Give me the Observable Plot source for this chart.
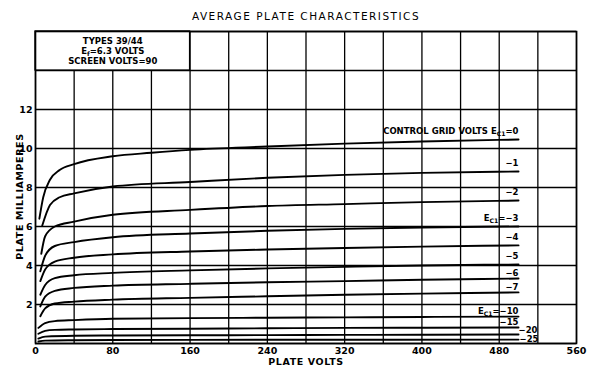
<!DOCTYPE html>
<html><head><meta charset="utf-8">
<script src="https://cdn.jsdelivr.net/npm/d3@7"></script>
<script src="https://cdn.jsdelivr.net/npm/@observablehq/plot@0.6"></script>
<style>body{margin:0;background:#fff} svg{display:block}</style>
</head><body><div id="chart"></div>
<script>
// Control-grid voltages (one curve each)
const gridVolts = [0, -1, -2, -3, -4, -5, -6, -7, -10, -15, -20, -25];
// Curve labels (E_C1 -> E with subscript C1)
const curveLabels = ["CONTROL GRID VOLTS E_C1=0", "−1", "−2", "E_C1=−3", "−4", "−5", "−6", "−7", "E_C1=−10", "−15", "−20", "−25"];
// [plate volts, plate milliamperes]
const ec0   = [[4,6.4],[8,7.5],[15,8.4],[25,8.9],[40,9.2],[80,9.6],[120,9.78],[160,9.93],[240,10.1],[320,10.25],[400,10.36],[500,10.46]];
const ec1   = [[7,6.05],[15,7.1],[25,7.5],[40,7.7],[80,8.05],[160,8.28],[240,8.5],[320,8.65],[400,8.75],[500,8.82]];
const ec2   = [[6,4.6],[10,5.5],[20,6.0],[40,6.25],[80,6.6],[160,6.85],[240,7.05],[320,7.15],[400,7.25],[500,7.33]];
const ec3   = [[5,3.7],[10,4.5],[20,5.0],[40,5.2],[80,5.45],[160,5.64],[240,5.78],[320,5.88],[400,5.95],[500,6.0]];
const ec4   = [[5,3.2],[10,3.8],[20,4.2],[40,4.4],[80,4.57],[160,4.72],[240,4.82],[320,4.9],[400,4.97],[500,5.03]];
const ec5   = [[5,2.5],[10,3.0],[20,3.35],[40,3.5],[80,3.62],[160,3.75],[240,3.85],[320,3.93],[400,4.0],[500,4.05]];
const ec6   = [[5,1.9],[10,2.4],[20,2.7],[40,2.85],[80,2.97],[160,3.06],[240,3.14],[320,3.2],[400,3.27],[500,3.33]];
const ec7   = [[5,1.4],[10,1.8],[20,2.05],[40,2.15],[80,2.25],[160,2.34],[240,2.42],[320,2.5],[400,2.56],[500,2.62]];
const ec10  = [[3,0.8],[10,1.05],[20,1.15],[40,1.2],[80,1.27],[160,1.3],[240,1.32],[320,1.34],[400,1.36],[500,1.38]];
const ec15  = [[3,0.5],[10,0.65],[20,0.7],[40,0.72],[80,0.74],[160,0.76],[240,0.78],[320,0.8],[400,0.81],[500,0.82]];
const ec20  = [[3,0.25],[10,0.35],[40,0.4],[80,0.41],[160,0.42],[240,0.43],[320,0.44],[400,0.45],[500,0.46]];
const ec25  = [[3,0.1],[10,0.15],[40,0.17],[80,0.18],[240,0.19],[500,0.2]];
// Axis ticks
const xTickLabels = [0, 80, 160, 240, 320, 400, 480, 560];
const yTickLabels = [2, 4, 6, 8, 10, 12];
const xGrid = [0, 40, 80, 120, 160, 200, 240, 280, 320, 360, 400, 440, 480, 520, 560];
const yGrid = [0, 2, 4, 6, 8, 10, 12, 14, 16];
const infoText = "TYPES 39/44\nE_f=6.3 VOLTS\nSCREEN VOLTS=90";
const title = "AVERAGE PLATE CHARACTERISTICS";

const curves = [ec0, ec1, ec2, ec3, ec4, ec5, ec6, ec7, ec10, ec15, ec20, ec25];
const rows = curves.flatMap((c, i) => c.map(([v, ma]) => ({g: gridVolts[i], v, ma})));
const ends = curves.map((c, i) => ({label: curveLabels[i], v: c[c.length - 1][0], ma: c[c.length - 1][1], i}));

const font = "DejaVu Sans, sans-serif";
const lab = {x: "v", y: "ma", text: "label", fontSize: 8.5, fontWeight: "bold"};
const chart = Plot.plot({
  width: 600, height: 372,
  marginLeft: 35, marginRight: 24, marginTop: 31, marginBottom: 29,
  style: {fontFamily: font, background: "#fff", color: "#000"},
  x: {domain: [0, 560]},
  y: {domain: [0, 16]},
  marks: [
    Plot.ruleX(xGrid, {stroke: "#000", strokeWidth: 1.3}),
    Plot.ruleY(yGrid, {stroke: "#000", strokeWidth: 1.3}),
    Plot.rect([{}], {x1: 0, x2: 160, y1: 14, y2: 16, fill: "#fff", stroke: "#000", strokeWidth: 1.3}),
    Plot.frame({stroke: "#000", strokeWidth: 1.6}),
    Plot.line(rows, {x: "v", y: "ma", z: "g", curve: "monotone-x", stroke: "#000", strokeWidth: 1.9}),
    Plot.axisX(xTickLabels, {tickSize: 0, tickPadding: 4, fontSize: 9.5, fontWeight: "bold", label: null}),
    Plot.axisY(yTickLabels, {tickSize: 0, tickPadding: 3, fontSize: 9.5, fontWeight: "bold", label: null}),
    Plot.text([infoText], {x: 80, y: 15, text: d => d, fontSize: 8.5, fontWeight: "bold", lineHeight: 1.15, dy: 0, className: "info"}),
    Plot.text(ends.filter(d => d.i <= 5), {...lab, textAnchor: "end", dy: -8.5}),
    Plot.text(ends.filter(d => d.i >= 6 && d.i <= 9), {...lab, textAnchor: "end", dy: -5.5}),
    Plot.text(ends.filter(d => d.i === 10), {...lab, textAnchor: "start", dx: 0, dy: -4}),
    Plot.text(ends.filter(d => d.i === 11), {...lab, textAnchor: "start", dx: 1, dy: -0.5}),
    Plot.text([title], {frameAnchor: "top", text: d => d, dy: -19, fontSize: 10.5, className: "ttl"}),
    Plot.text(["PLATE VOLTS"], {frameAnchor: "bottom", text: d => d, dy: 21, fontSize: 9.5, fontWeight: "bold", className: "xl"}),
    Plot.text(["PLATE MILLIAMPERES"], {frameAnchor: "left", textAnchor: "middle", text: d => d, dx: -16, dy: 9, rotate: -90, fontSize: 9.5, fontWeight: "bold", className: "yl"})
  ]
});
document.getElementById("chart").append(chart);

const svg = d3.select(chart);
svg.selectAll(".ttl text").style("letter-spacing", "1.5px");
svg.selectAll(".xl text, .yl text").style("letter-spacing", "0.6px");
// Subscript formatting: "E_xx" -> E with subscript xx
function subscriptify(el) {
  const s = el.textContent;
  const m = s.match(/^(.*?E)_(C1)(.*)$/) || s.match(/^(.*?E)_([a-z])(.*)$/);
  if (!m) return;
  el.textContent = "";
  const sel = d3.select(el);
  sel.append("tspan").text(m[1]);
  sel.append("tspan").attr("dy", 2).attr("font-size", "72%").text(m[2]);
  sel.append("tspan").attr("dy", -2).text(m[3]);
}
svg.selectAll("text").each(function() {
  const tspans = this.querySelectorAll("tspan");
  if (tspans.length) tspans.forEach(t => { if (t.textContent.includes("_")) subscriptify(t); });
  else if (this.textContent.includes("_")) subscriptify(this);
});
</script>
</body></html>
